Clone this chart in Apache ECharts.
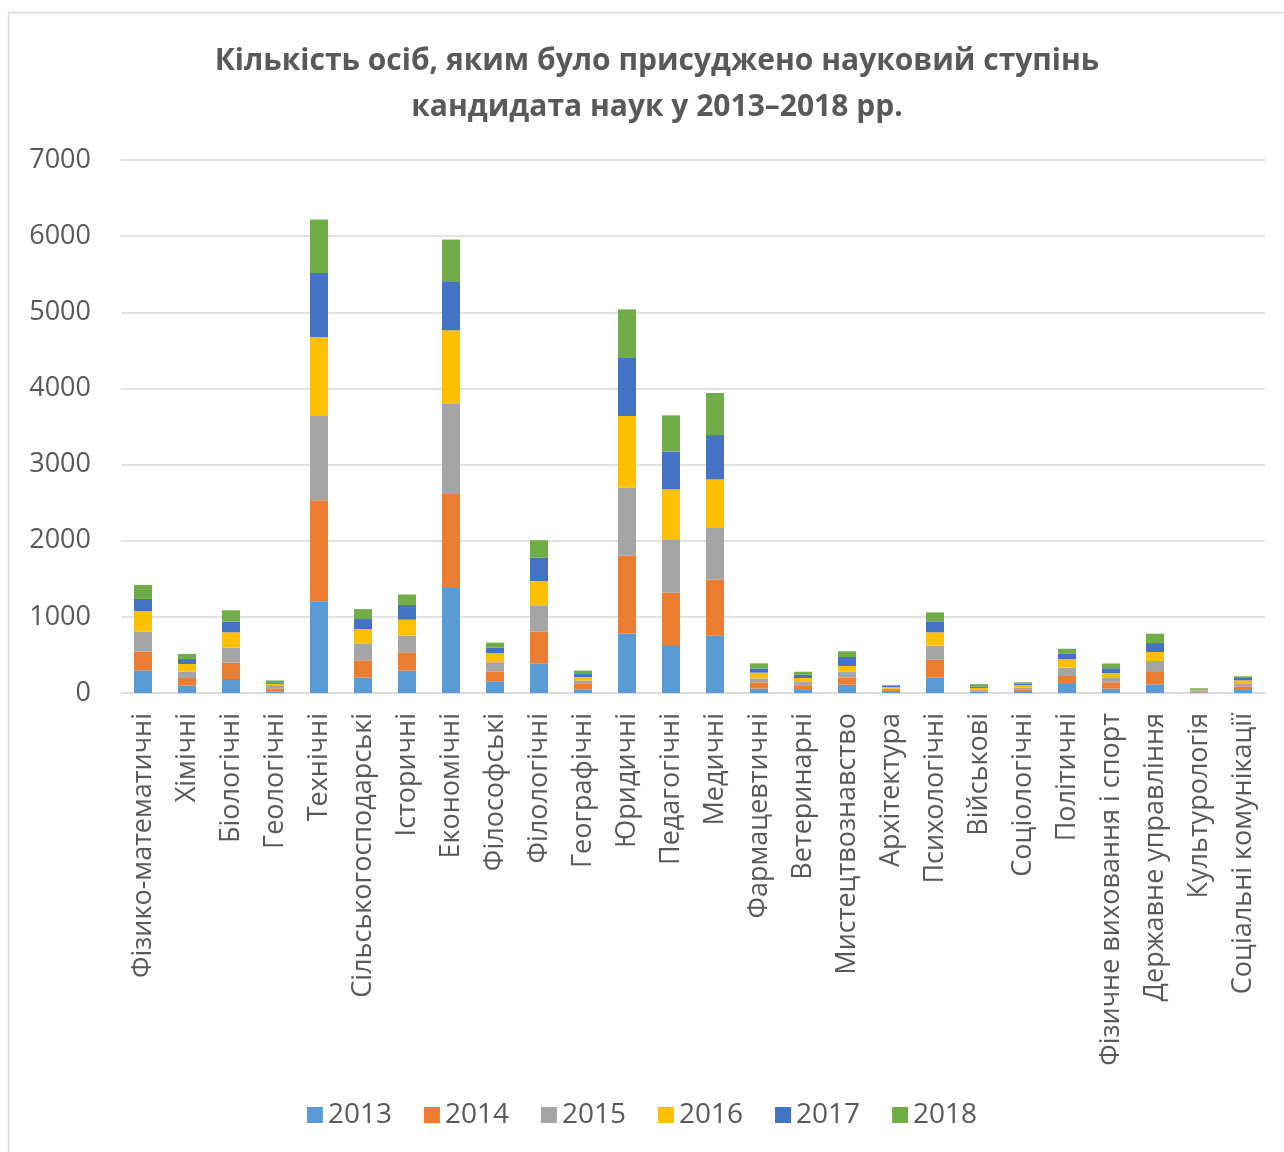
<!DOCTYPE html>
<html>
<head>
<meta charset="utf-8">
<script src="https://cdn.jsdelivr.net/npm/echarts@6/dist/echarts.min.js"></script>
<style>
  html, body { margin: 0; padding: 0; background: #fff; }
  #chart { width: 1284px; height: 1152px; }
</style>
</head>
<body>
<div id="chart"></div>
<script>
// scientific fields
var categories = [
  "Фізико-математичні", "Хімічні", "Біологічні", "Геологічні", "Технічні",
  "Сільськогосподарські", "Історичні", "Економічні", "Філософські", "Філологічні",
  "Географічні", "Юридичні", "Педагогічні", "Медичні", "Фармацевтичні",
  "Ветеринарні", "Мистецтвознавство", "Архітектура", "Психологічні", "Військові",
  "Соціологічні", "Політичні", "Фізичне виховання і спорт", "Державне управління",
  "Культурологія", "Соціальні комунікації"
];

var years = ["2013", "2014", "2015", "2016", "2017", "2018"];
var colors = ["#5b9bd5", "#ed7d31", "#a5a5a5", "#ffc000", "#4472c4", "#70ad47"];

var v2013 = [298, 97, 184, 22, 1200, 202, 294, 1379, 154, 390, 50, 783, 630, 753, 60, 39, 109, 13, 201, 18, 26, 118, 58, 114, 8, 39];
var v2014 = [246, 100, 215, 40, 1331, 227, 240, 1235, 126, 415, 70, 1020, 691, 735, 79, 62, 92, 26, 236, 18, 22, 105, 83, 162, 8, 48];
var v2015 = [263, 84, 197, 30, 1107, 223, 219, 1191, 124, 347, 45, 897, 688, 679, 53, 43, 79, 18, 184, 13, 22, 109, 56, 144, 16, 31];
var v2016 = [267, 100, 201, 28, 1038, 188, 210, 959, 122, 319, 45, 938, 665, 638, 75, 53, 75, 22, 176, 18, 35, 114, 66, 118, 5, 48];
var v2017 = [162, 66, 141, 20, 840, 131, 193, 634, 70, 306, 40, 762, 495, 583, 56, 43, 118, 18, 144, 18, 18, 75, 62, 118, 5, 31];
var v2018 = [184, 66, 148, 25, 701, 131, 137, 557, 66, 229, 45, 638, 477, 552, 66, 39, 75, 9, 118, 31, 18, 60, 62, 123, 20, 22];

var yMin = 0;
var yMax = 7000;
var yStep = 1000;
</script>
<script>
var chart = echarts.init(document.getElementById("chart"));
var seriesValues = [v2013, v2014, v2015, v2016, v2017, v2018];
var font = "'Open Sans', 'DejaVu Sans', sans-serif";

var series = years.map(function (y, i) {
  return {
    name: y,
    type: "bar",
    stack: "total",
    barWidth: 18,
    itemStyle: { color: colors[i] },
    data: seriesValues[i]
  };
});

chart.setOption({
  animation: false,
  textStyle: { fontFamily: font },
  title: {
    text: "Кількість осіб, яким було присуджено науковий ступінь\nкандидата наук у 2013–2018 рр.",
    left: 652,
    textAlign: "center",
    top: 33,
    textStyle: {
      fontFamily: font,
      fontSize: 30,
      fontWeight: "bold",
      color: "#595959",
      lineHeight: 46
    }
  },
  graphic: [{
    type: "rect",
    shape: { x: 8.5, y: 12.5, width: 1300, height: 1200 },
    style: { fill: "none", stroke: "#d9d9d9", lineWidth: 1.5 },
    silent: true
  }],
  legend: {
    bottom: 18,
    left: "center",
    itemWidth: 16,
    itemHeight: 16,
    itemGap: 32,
    icon: "rect",
    textStyle: { fontFamily: font, fontSize: 28, color: "#595959" },
    data: years
  },
  grid: { left: 121, right: 19, top: 160, bottom: 459 },
  xAxis: {
    type: "category",
    data: categories,
    axisLine: { lineStyle: { color: "#d9d9d9", width: 1.5 } },
    axisTick: { show: false },
    axisLabel: {
      rotate: 90,
      interval: 0,
      margin: 20,
      fontSize: 27,
      color: "#595959",
      fontFamily: font
    }
  },
  yAxis: {
    type: "value",
    min: yMin,
    max: yMax,
    interval: yStep,
    axisLine: { show: false },
    axisTick: { show: false },
    splitLine: { lineStyle: { color: "#d9d9d9", width: 1.5 } },
    axisLabel: {
      fontSize: 27,
      color: "#595959",
      margin: 30,
      fontFamily: font,
      formatter: function (v) { return String(v); }
    }
  },
  series: series
});
</script>
</body>
</html>
